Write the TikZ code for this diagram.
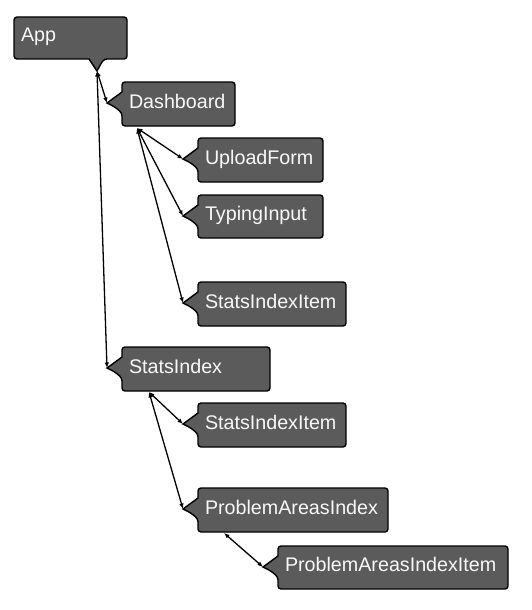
\documentclass[tikz,border=0pt]{standalone}
\usepackage{fontspec}
\setmainfont{Liberation Sans}
\usetikzlibrary{calc,arrows.meta,backgrounds}
\definecolor{boxfill}{HTML}{5B5B5B}
\definecolor{boxtext}{HTML}{F8F8F8}
\tikzset{
  comp/.style={anchor=north west, inner xsep=7pt, inner ysep=0pt, outer sep=0pt,
    text height=14pt, text depth=6pt, align=left, text=boxtext,
    font=\fontsize{19.7}{22}\selectfont},
  callout/.style={draw=black, line width=1.4pt, fill=boxfill, rounded corners=3pt},
  link/.style={line width=1.3pt, {Latex[length=5.5pt,width=4.5pt]}-{Latex[length=5.5pt,width=4.5pt]}},
}
\newcommand\leftcallout[1]{%
  \draw[callout] (#1.north) -- (#1.north east) -- (#1.south east) -- (#1.south west)
    -- ($(#1.north west)+(0,31)$) [sharp corners]
    .. controls ($(#1.north west)+(-7,25)$) .. (#1-tip)
    .. controls ($(#1.north west)+(-7,16)$) .. ($(#1.north west)+(0,10)$)
    [rounded corners=3pt] -- (#1.north west) -- cycle;}
\begin{document}
\begin{tikzpicture}[x=1pt,y=-1pt]
\useasboundingbox (0,0) rectangle (532,610);
% nodes
\node[comp, text width=99pt, minimum height=42pt] (app) at (14,17) {App};
\node[comp, text width=99pt, minimum height=44pt] (dash) at (122,82) {Dashboard};
\node[comp, text width=111pt, minimum height=44pt] (upload) at (198,138) {UploadForm};
\node[comp, text width=111pt, minimum height=43pt] (typing) at (198,195) {TypingInput};
\node[comp, text width=134pt, minimum height=44pt] (siia) at (198,282) {StatsIndexItem};
\node[comp, text width=134pt, minimum height=44pt] (stats) at (122,347) {StatsIndex};
\node[comp, text width=134pt, minimum height=44pt] (siib) at (198,403) {StatsIndexItem};
\node[comp, text width=176pt, minimum height=44pt] (pai) at (198,488) {ProblemAreasIndex};
\node[comp, text width=216pt, minimum height=43pt] (paii) at (278,546) {ProblemAreasIndexItem};
% pointer tips and edge sources
\coordinate (app-tip) at ($(app.south west)+(83,12)$);
\foreach \n in {dash,upload,typing,siia,stats,siib,pai,paii}
  \coordinate (\n-tip) at ($(\n.north west)+(-15,21)$);
\coordinate (dash-src) at ($(dash.south west)+(15,2)$);
\coordinate (stats-src) at ($(stats.south west)+(27,1)$);
\coordinate (pai-src) at ($(pai.south west)+(26,1)$);
% callout shapes
\begin{scope}[on background layer]
  \draw[callout] (app.north) -- (app.north east) -- (app.south east)
    -- ($(app.south west)+(90,0)$) [sharp corners]
    .. controls ($(app.south west)+(86.5,5.5)$) .. (app-tip)
    .. controls ($(app.south west)+(79.5,5.5)$) .. ($(app.south west)+(75,0)$)
    [rounded corners=3pt] -- (app.south west) -- (app.north west) -- cycle;
  \foreach \n in {dash,upload,typing,siia,stats,siib,pai,paii}
    {\leftcallout{\n}}
\end{scope}
% connectors
\draw[link] (app-tip) -- (dash-tip);
\draw[link] (app-tip) -- (stats-tip);
\draw[link] (dash-src) -- (upload-tip);
\draw[link] (dash-src) -- (typing-tip);
\draw[link] (dash-src) -- (siia-tip);
\draw[link] (stats-src) -- (siib-tip);
\draw[link] (stats-src) -- (pai-tip);
\draw[link] (pai-src) -- (paii-tip);
\end{tikzpicture}
\end{document}
